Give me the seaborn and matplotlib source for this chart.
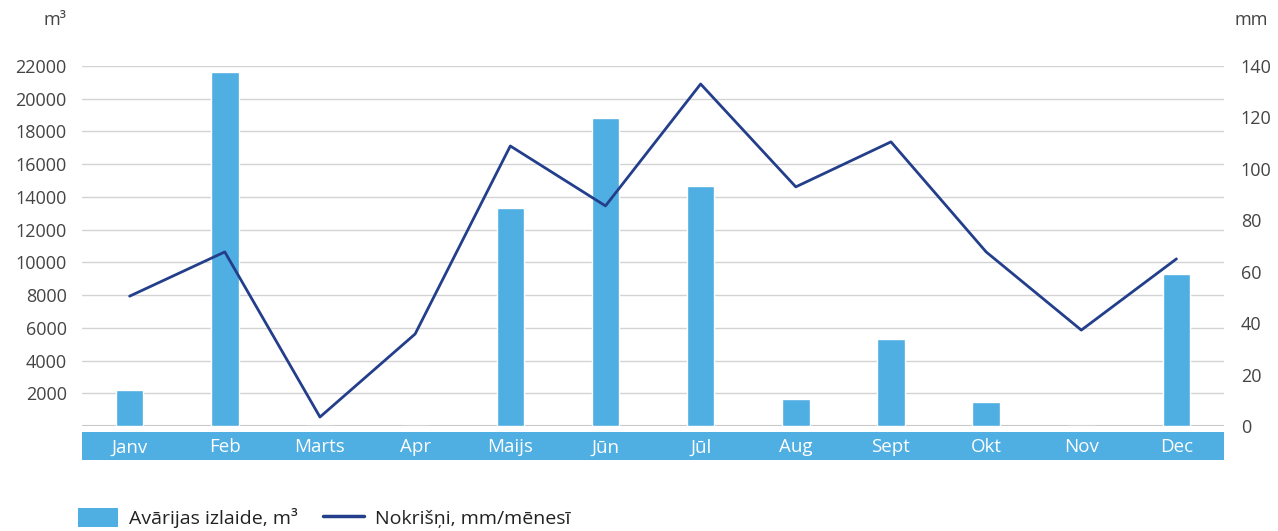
import seaborn as sns
import pandas as pd
import numpy as np
import matplotlib.pyplot as plt
from matplotlib.patches import Patch
from matplotlib.lines import Line2D

# data
months = ['Janv', 'Feb', 'Marts', 'Apr', 'Maijs', 'Jūn', 'Jūl', 'Aug', 'Sept', 'Okt', 'Nov', 'Dec']
release_m3 = [2200, 21650, 0, 0, 13330, 18820, 14670, 1650, 5320, 1470, 0, 9300]
rain_mm = [50.5, 67.7, 3.5, 35.8, 108.9, 85.6, 133.0, 93.0, 110.5, 67.7, 37.3, 65.0]
left_ticks = list(range(2000, 22001, 2000))
right_ticks = list(range(0, 141, 20))

bar_col = '#4faee2'
line_col = '#233e8b'
txt_col = '#444444'

sns.set_theme(style='white')
plt.rcParams['font.family'] = ['Open Sans', 'DejaVu Sans']

df = pd.DataFrame({'month': months, 'release': release_m3, 'rain': rain_mm})

fig = plt.figure(figsize=(12.78, 5.31), dpi=100)
ax = fig.add_axes([0.0642, 0.1977, 0.8936, 0.678])

sns.barplot(data=df, x='month', y='release', color=bar_col, saturation=1,
            width=0.29, ax=ax)
ax.set_xlim(-0.5, len(months) - 0.5)
ax.set_ylim(0, 22000)
ax.set_yticks(left_ticks)
ax.set_yticklabels([str(t) for t in left_ticks])
ax.yaxis.grid(True, color='#d3d3d3', lw=1)
ax.set_axisbelow(True)
for s in ax.spines.values():
    s.set_visible(False)
ax.axhline(0, color='#c8c8c8', lw=1.5, zorder=0)
ax.tick_params(axis='y', length=0, pad=11, labelsize=13, labelcolor=txt_col)
ax.tick_params(axis='x', length=0, labelbottom=False)
ax.set_xlabel('')
ax.set_ylabel('')

ax2 = ax.twinx()
sns.lineplot(x=np.arange(len(months)), y=df['rain'], color=line_col, lw=2, ax=ax2)
ax2.set_ylim(0, 140)
ax2.set_yticks(right_ticks)
ax2.set_yticklabels([str(t) for t in right_ticks])
ax2.tick_params(axis='y', length=0, pad=12, labelsize=13, labelcolor=txt_col)
ax2.set_ylabel('')
for s in ax2.spines.values():
    s.set_visible(False)

# month band under the plot
band = fig.add_axes([0.0642, 0.1337, 0.8936, 0.0527], facecolor=bar_col)
band.set_xlim(ax.get_xlim())
band.set_ylim(0, 1)
band.set_xticks(range(len(months)))
band.set_xticklabels(months)
band.tick_params(axis='x', length=0, pad=-15.5, labelsize=13.5, labelcolor='white')
band.set_yticks([])
for s in band.spines.values():
    s.set_visible(False)

fig.text(0.043, 0.963, 'm³', ha='center', va='center', fontsize=13, color=txt_col)
fig.text(0.979, 0.963, 'mm', ha='center', va='center', fontsize=13, color=txt_col)

handles = [Patch(facecolor=bar_col, edgecolor='none'),
           Line2D([0], [0], color=line_col, lw=2.5)]
labels = ['Avārijas izlaide, m³', 'Nokrišņi, mm/mēnesī']
fig.legend(handles, labels, loc='center left', bbox_to_anchor=(0.047, 0.024),
           ncol=2, frameon=False, fontsize=14, handlelength=2.1, handleheight=1.1,
           handletextpad=0.55, columnspacing=1.3, labelcolor='#222222')

fig.savefig('out.png', dpi=100)
